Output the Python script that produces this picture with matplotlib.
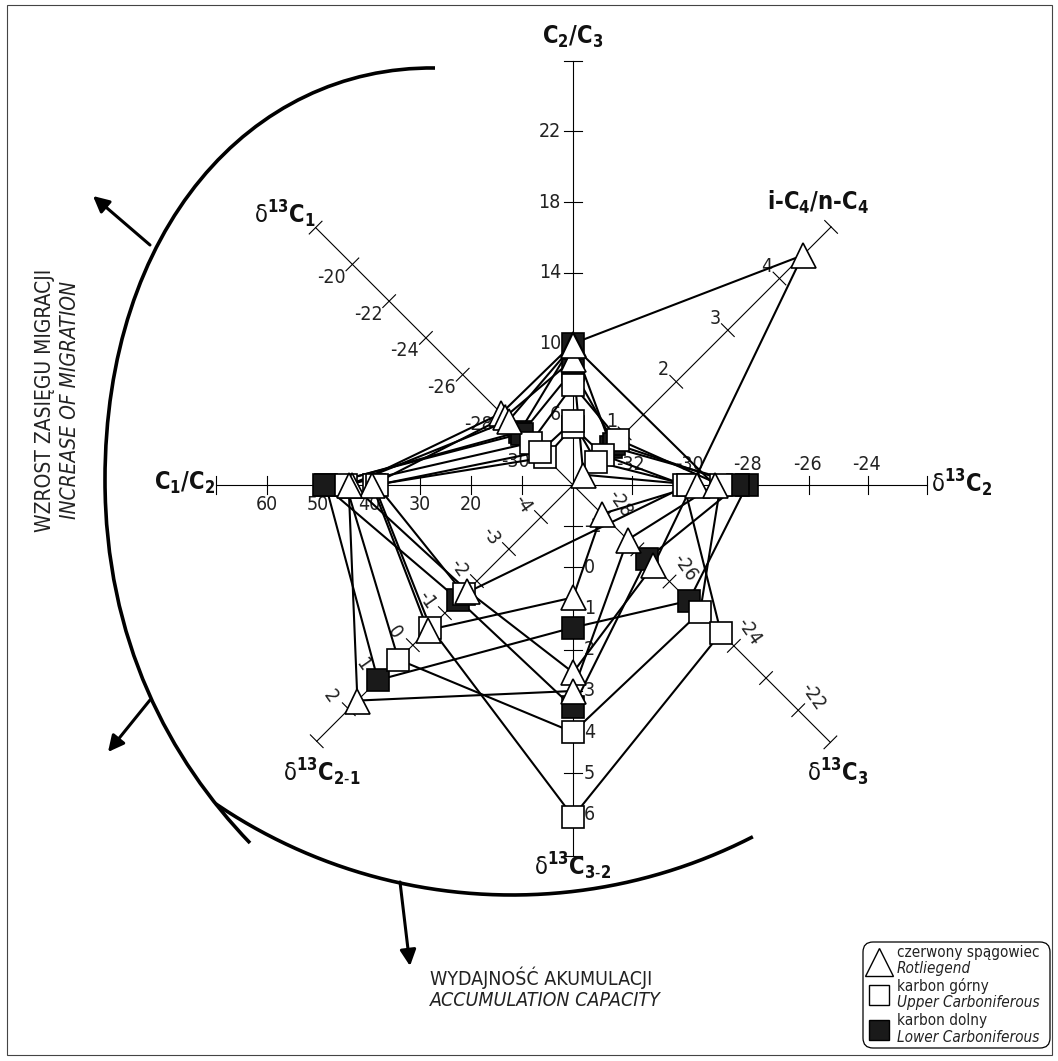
import math
import numpy as np
import matplotlib
matplotlib.use("Agg")
import matplotlib.pyplot as plt
from matplotlib import font_manager
from matplotlib.patches import FancyBboxPatch, Rectangle, PathPatch
from matplotlib.path import Path

nan = np.nan

# fonts: a narrow sans if the system has one
fonts = font_manager.fontManager.ttflist
installed = {f.name for f in fonts}
stretch = "normal"
if "Liberation Sans Narrow" in installed:
    face = "Liberation Sans Narrow"
elif any(f.name == "DejaVu Sans" and f.stretch == "condensed" for f in fonts):
    face, stretch = "DejaVu Sans", "condensed"
else:
    face = "Liberation Sans"
plt.rcParams["font.family"] = [face, "DejaVu Sans"]
plt.rcParams["font.stretch"] = stretch
plt.rcParams["mathtext.fontset"] = "custom"
plt.rcParams["mathtext.rm"] = face + ":stretch=" + stretch
plt.rcParams["mathtext.bf"] = face + ":bold:stretch=" + stretch
plt.rcParams["mathtext.it"] = face + ":italic:stretch=" + stretch

# diagram axes, clockwise from the top
axis_titles = [
    r"C$_\mathbf{2}$/C$_\mathbf{3}$",
    r"i-C$_\mathbf{4}$/n-C$_\mathbf{4}$",
    r"$\mathrm{\delta}^{\mathbf{13}}\mathbf{C}_{\mathbf{2}}$",
    r"$\mathrm{\delta}^{\mathbf{13}}\mathbf{C}_{\mathbf{3}}$",
    r"$\mathrm{\delta}^{\mathbf{13}}\mathbf{C}_{\mathbf{3\text{-}2}}$",
    r"$\mathrm{\delta}^{\mathbf{13}}\mathbf{C}_{\mathbf{2\text{-}1}}$",
    r"C$_\mathbf{1}$/C$_\mathbf{2}$",
    r"$\mathrm{\delta}^{\mathbf{13}}\mathbf{C}_{\mathbf{1}}$",
]
axis_angle = [90, 45, 0, -45, -90, -135, 180, 135]
axis_zero = [2, 0, -34, -29, -2, -5, 0, -32]      # value at the centre
axis_step = [17.68, 73, 29.5, 45.5, 41.2, 45.3, 5.1, 26]   # px per unit
axis_end = [26, 5, -22, -21, 7, 3, 70, -18]

axis_ticks = [
    [6, 10, 14, 18, 22],
    [1, 2, 3, 4],
    [-32, -30, -28, -26, -24],
    [-28, -27, -26, -25, -24, -23, -22],
    [-1, 0, 1, 2, 3, 4, 5, 6],
    [-4, -3, -2, -1, 0, 1, 2],
    [10, 20, 30, 40, 50, 60],
    [-30, -28, -26, -24, -22, -20],
]
axis_ticklabels = [
    ["6", "10", "14", "18", "22"],
    ["1", "2", "3", "4"],
    ["-32", "-30", "-28", "-26", "-24"],
    ["-28", "", "-26", "", "-24", "", "-22"],
    ["-1", "0", "1", "2", "3", "4", "5", "6"],
    ["-4", "-3", "-2", "-1", "0", "1", "2"],
    ["", "20", "30", "40", "50", "60"],
    ["-30", "-28", "-26", "-24", "-22", "-20"],
]

# samples: C2/C3, iC4/nC4, d13C2, d13C3, d13C3-2, d13C2-1, C1/C2, d13C1
rotliegend = [
    [10.0, 4.45, nan, -26.5, 2.55, -1.7, 43.3, -28.1],
    [9.1, 0.2, -29.8, -28.1, 0.73, -0.47, 39.4, -28.3],
    [9.9, nan, -29.2, -27.3, 3.0, 1.73, 44.0, -28.5],
]
upper_carb = [
    [7.65, 0.88, -29.0, -25.05, 4.0, 0.45, 44.5, -29.7],
    [5.3, 0.58, -30.24, -24.4, 6.05, -0.55, 39.0, -30.5],
    [5.6, 0.45, -30.1, nan, nan, -1.6, 38.5, -30.2],
]
lower_carb = [
    [10.0, 0.74, -28.1, -25.4, 1.46, 1.09, 48.5, -29.1],
    [8.5, 0.8, -28.4, -26.7, 3.4, -1.42, 48.9, -29.2],
]

cx, cy = 573, 485


def to_xy(k, v):
    r = (v - axis_zero[k]) * axis_step[k]
    a = math.radians(axis_angle[k])
    return cx + r * math.cos(a), cy - r * math.sin(a)


fig = plt.figure(figsize=(10.58, 10.61), dpi=100)
ax = fig.add_axes([0, 0, 1, 1])
ax.set_xlim(0, 1058)
ax.set_ylim(1061, 0)
ax.axis("off")

ax.add_patch(Rectangle((7, 5), 1045, 1050, fill=False, lw=0.8, ec="#444444"))

# axis lines, ticks and labels
lab_style = [
    dict(off=(-12, 0), ha="right", rot=0),
    dict(off=(-13, -12), ha="center", rot=0),
    dict(off=(-2, -21), ha="center", rot=0),
    dict(off=(15, -14), ha="center", rot=-55),
    dict(off=(11, 0), ha="left", rot=0),
    dict(off=(-18, -13), ha="center", rot=-55),
    dict(off=(0, 20), ha="center", rot=0),
    dict(off=(-21, 13), ha="center", rot=0),
]
for k in range(8):
    a = math.radians(axis_angle[k])
    px, py = -math.sin(a), -math.cos(a)   # perpendicular in screen coords
    ex, ey = to_xy(k, axis_end[k])
    ax.plot([cx, ex], [cy, ey], color="black", lw=0.8, zorder=1)
    ax.plot([ex - 9 * px, ex + 9 * px], [ey - 9 * py, ey + 9 * py], color="black", lw=0.8, zorder=1)
    st = lab_style[k]
    for t, lab in zip(axis_ticks[k], axis_ticklabels[k]):
        tx, ty = to_xy(k, t)
        ax.plot([tx - 9 * px, tx + 9 * px], [ty - 9 * py, ty + 9 * py], color="black", lw=0.8, zorder=1)
        if lab:
            ax.text(tx + st["off"][0], ty + st["off"][1], lab, ha=st["ha"], va="center",
                    rotation=st["rot"], fontsize=14, color="#222222", zorder=1)

title_pos = [(573, 37), (818, 202), (962, 483), (838, 772),
             (573, 866), (322, 772), (185, 483), (285, 214)]
for k, (tx, ty) in enumerate(title_pos):
    ax.text(tx, ty, axis_titles[k], ha="center", va="center", fontsize=17,
            fontweight="bold", color="#111111")

# sample outlines
for rows in (rotliegend, upper_carb, lower_carb):
    for row in rows:
        pts = [to_xy(k, v) for k, v in enumerate(row) if not np.isnan(v)]
        xs = [p[0] for p in pts] + [pts[0][0]]
        ys = [p[1] for p in pts] + [pts[0][1]]
        ax.plot(xs, ys, color="black", lw=1.5, zorder=2)


def draw_marks(rows, marker, face_col, size, z):
    for row in rows:
        pts = [to_xy(k, v) for k, v in enumerate(row) if not np.isnan(v)]
        ax.plot([p[0] for p in pts], [p[1] for p in pts], linestyle="none",
                marker=marker, ms=size, mfc=face_col, mec="black", mew=1.2, zorder=z)


draw_marks(lower_carb, "s", "#1a1a1a", 15.5, 3)
draw_marks(upper_carb, "s", "white", 15.5, 4)
draw_marks(rotliegend, "^", "white", 18, 5)

# migration arc, two bezier pieces
migr = Path([(435, 68), (250, 66), (105, 230), (105, 480), (105, 640), (170, 760), (250, 843)],
            [Path.MOVETO] + [Path.CURVE4] * 6)
ax.add_patch(PathPatch(migr, fill=False, lw=2.6, ec="black", zorder=1))
# accumulation arc
t = np.radians(np.linspace(236, 297, 200))
ax.plot(512 + 527 * np.cos(t), 368 - 527 * np.sin(t), color="black", lw=2.6, zorder=1)

arrow = dict(arrowstyle="-|>", lw=2.2, color="black", mutation_scale=24, shrinkA=0, shrinkB=0)
ax.annotate("", xy=(93, 196), xytext=(150, 245), arrowprops=arrow)
ax.annotate("", xy=(108, 752), xytext=(150, 700), arrowprops=arrow)
ax.annotate("", xy=(410, 966), xytext=(400, 882), arrowprops=arrow)

ax.text(45, 400, "WZROST ZASIĘGU MIGRACJI", rotation=90, ha="center", va="center",
        fontsize=15, color="#222222")
ax.text(70, 400, "INCREASE OF MIGRATION", rotation=90, ha="center", va="center",
        fontsize=15, style="italic", color="#222222")
ax.text(430, 978, "WYDAJNOŚĆ AKUMULACJI", ha="left", va="center", fontsize=14, color="#222222")
ax.text(430, 1001, "ACCUMULATION CAPACITY", ha="left", va="center", fontsize=14,
        style="italic", color="#222222")

# legend
ax.add_patch(FancyBboxPatch((863, 942), 187, 106, boxstyle="round,pad=0,rounding_size=10",
                            fill=False, lw=0.9, ec="black"))
leg_marks = [("^", "white", 20, 962), ("s", "white", 15, 995), ("s", "#1a1a1a", 15, 1030)]
leg_text = [("czerwony spągowiec", "Rotliegend"), ("karbon górny", "Upper Carboniferous"),
            ("karbon dolny", "Lower Carboniferous")]
for (m, fc, s, y), (pl, en) in zip(leg_marks, leg_text):
    ax.plot([879], [y], marker=m, ms=s, mfc=fc, mec="black", mew=1.0, linestyle="none")
    ax.text(897, y - 9, pl, fontsize=11, ha="left", va="center", color="#222222")
    ax.text(897, y + 7, en, fontsize=11, ha="left", va="center", style="italic", color="#222222")

fig.savefig("out.png", dpi=100)
